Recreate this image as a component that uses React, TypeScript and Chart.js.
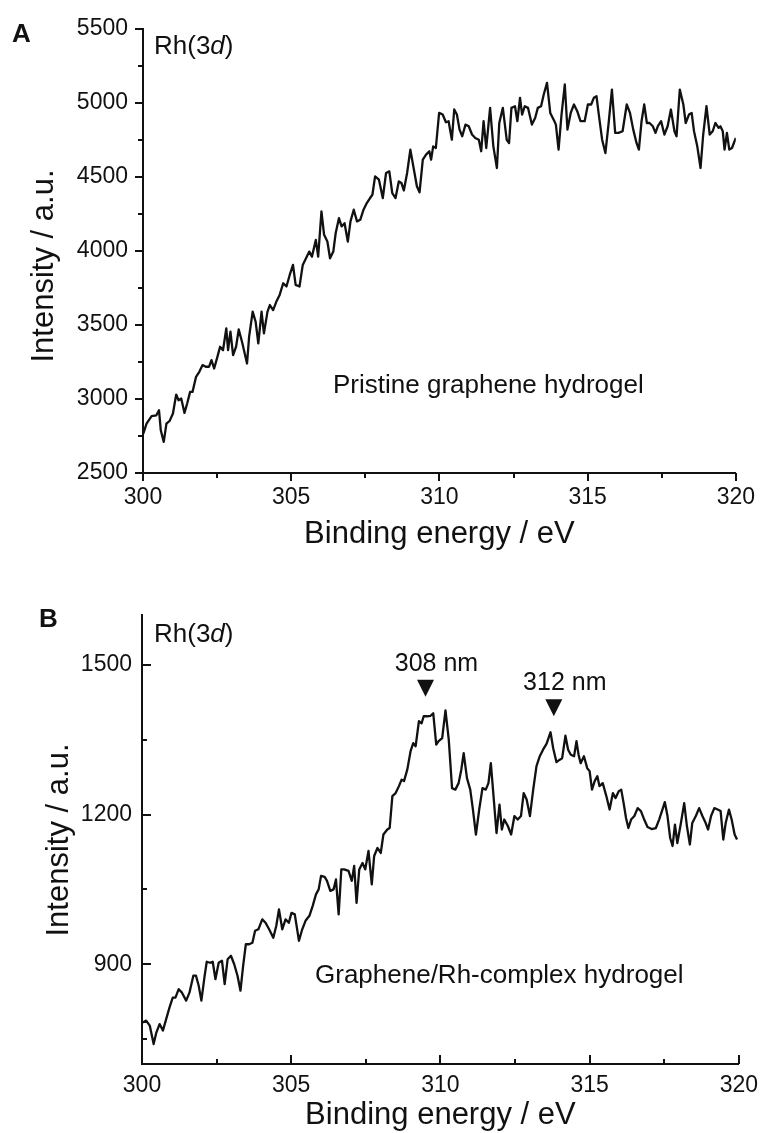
import React, { useEffect, useRef } from "react";
import { Chart, registerables } from "chart.js";

Chart.register(...registerables);

// ---------------- Data ----------------
const energyA = [
  300.01, 300.12, 300.29, 300.45, 300.54, 300.6, 300.7, 300.79, 300.9, 301.01,
  301.12, 301.2, 301.29, 301.4, 301.49, 301.59, 301.67, 301.79, 301.9,
  302.01, 302.12, 302.23, 302.31, 302.4, 302.51, 302.6, 302.7, 302.81, 302.87, 302.95,
  303.04, 303.14, 303.23, 303.34, 303.51, 303.58, 303.7, 303.8, 303.89,
  304.0, 304.08, 304.2, 304.28, 304.39, 304.5, 304.61, 304.73, 304.84, 304.95,
  305.06, 305.15, 305.28, 305.39, 305.5, 305.61, 305.7, 305.83, 305.91,
  306.02, 306.11, 306.22, 306.31, 306.42, 306.5, 306.61, 306.7, 306.8, 306.91,
  307.0, 307.11, 307.22, 307.33, 307.44, 307.55, 307.66, 307.74, 307.83, 307.96,
  308.09, 308.2, 308.31,
  308.41, 308.52, 308.63, 308.72, 308.8, 308.91, 309.02, 309.13, 309.24, 309.33,
  309.44, 309.55, 309.66, 309.72, 309.79, 309.88, 309.99, 310.11, 310.22, 310.31,
  310.42, 310.5, 310.59, 310.68, 310.77, 310.88, 310.99, 311.1, 311.21, 311.33,
  311.41, 311.49, 311.58, 311.71, 311.82, 311.94, 312.02, 312.14, 312.27, 312.35,
  312.43, 312.55, 312.63, 312.72, 312.79, 312.88, 312.99, 313.12, 313.23, 313.32,
  313.43, 313.52, 313.63, 313.74, 313.88, 313.93, 314.02, 314.12, 314.23, 314.32,
  314.43, 314.54, 314.65, 314.76, 314.9, 315.01, 315.12, 315.21, 315.3, 315.37,
  315.49, 315.6, 315.71, 315.82, 315.93, 316.04, 316.18, 316.32, 316.43, 316.54,
  316.65, 316.73, 316.82, 316.91, 317.0, 317.09, 317.2, 317.29, 317.37, 317.48,
  317.59, 317.7, 317.81, 317.93, 318.0, 318.11, 318.23, 318.31, 318.42, 318.51,
  318.59, 318.7, 318.81, 318.9, 319.01, 319.12, 319.22, 319.31, 319.42, 319.48,
  319.56, 319.62, 319.7, 319.78, 319.87, 320.0,
];
const intensityA = [
  2766, 2834, 2884, 2890, 2924, 2789, 2710, 2834, 2852, 2902,
  3030, 2992, 3003, 2906, 2970, 3048, 3048, 3150, 3184,
  3229, 3218, 3218, 3263, 3206, 3285, 3353, 3330, 3477, 3330, 3455,
  3297, 3353, 3470, 3387, 3240, 3421, 3590, 3522, 3376,
  3590, 3443, 3590, 3635, 3601, 3658, 3703, 3782, 3760, 3838,
  3906, 3771, 3760, 3906, 3951, 3996, 3962, 4075, 3962,
  4267, 4109, 4064, 3951, 3996, 4120, 4222, 4166, 4188, 4064,
  4200, 4279, 4200, 4211, 4279, 4324, 4358, 4380, 4504, 4482,
  4358, 4527, 4538,
  4391, 4358, 4470, 4459, 4409, 4527, 4685, 4561, 4437, 4396,
  4617, 4651, 4674, 4617, 4707, 4696, 4933, 4922, 4870, 4877,
  4752, 4956, 4922, 4820, 4775, 4854, 4843, 4787, 4764, 4752,
  4674, 4877, 4696, 4967, 4707, 4561, 4865, 4967, 4752, 4730,
  4967, 4978, 4877, 5035, 4922, 4978, 4967, 4854, 4899, 4967,
  4978, 5057, 5136, 4933, 4877, 4854, 4685, 4922, 5125, 4820,
  4933, 4990, 4945, 4877, 4877, 4990, 4990, 5035, 5046, 4933,
  4752, 4662, 4865, 5091, 4798, 4798, 4809, 4990, 4933, 4820,
  4730, 4685, 4877, 4990, 4865, 4865, 4843, 4798, 4843, 4877,
  4787, 4843, 4956, 4809, 4775, 5091, 4990, 4865, 4922, 4933,
  4809, 4707, 4561, 4787, 4978, 4787, 4809, 4865, 4832, 4843,
  4809, 4685, 4798, 4685, 4696, 4764,
];

const energyB = [
  300.03, 300.14, 300.26, 300.39, 300.48, 300.59, 300.7, 300.81, 300.92, 301.03,
  301.12, 301.23, 301.34, 301.48, 301.59, 301.72, 301.81, 301.9, 301.99, 302.1,
  302.17, 302.28, 302.37, 302.46, 302.57, 302.68, 302.77, 302.87, 302.98, 303.09,
  303.2, 303.3, 303.39, 303.48, 303.59, 303.7, 303.79, 303.9, 304.03, 304.14,
  304.26, 304.4, 304.5, 304.59, 304.7, 304.81, 304.92, 305.01, 305.12, 305.26,
  305.37, 305.48, 305.61, 305.72, 305.83, 305.92, 306.0, 306.12, 306.2, 306.31,
  306.42, 306.5, 306.59, 306.68, 306.77,
  306.92, 307.03, 307.11, 307.19, 307.28, 307.39, 307.48, 307.59, 307.7, 307.78,
  307.89, 308.0, 308.09, 308.22, 308.3, 308.39, 308.5, 308.61, 308.7, 308.78,
  308.89, 309.0, 309.09, 309.17, 309.28, 309.37, 309.44, 309.56, 309.67, 309.76,
  309.86, 309.94, 310.06, 310.17, 310.28, 310.39, 310.5, 310.61, 310.7, 310.78,
  310.89, 311.0, 311.09, 311.19, 311.3, 311.41, 311.52, 311.61, 311.69, 311.78,
  311.88, 311.98, 312.06, 312.14, 312.26, 312.37, 312.48, 312.59, 312.7, 312.79,
  312.89, 313.0, 313.11, 313.22, 313.33, 313.44, 313.56, 313.69, 313.78, 313.89,
  314.0, 314.08, 314.19, 314.28, 314.37, 314.48, 314.56, 314.63, 314.7, 314.81,
  314.92, 315.0, 315.08, 315.17, 315.26, 315.33, 315.44, 315.56, 315.67, 315.78,
  315.87, 315.98, 316.06, 316.14, 316.22, 316.3, 316.39, 316.5, 316.61, 316.72,
  316.83, 316.94, 317.08, 317.22, 317.33, 317.44, 317.52, 317.61, 317.7, 317.78,
  317.86, 317.94, 318.06, 318.17, 318.26, 318.36, 318.44, 318.56, 318.67, 318.78,
  318.89, 318.97, 319.07, 319.18, 319.29, 319.39, 319.48, 319.56, 319.67, 319.76,
  319.86, 319.94,
];
const intensityB = [
  783, 787, 777, 740, 763, 780, 767, 790, 813, 833,
  833, 850, 843, 827, 843, 877, 877, 857, 827, 877,
  905, 903, 905, 870, 903, 907, 860, 910, 917, 900,
  877, 847, 897, 940, 940, 943, 967, 970, 990, 983,
  970, 953, 977, 1010, 970, 990, 983, 1003, 1000, 947,
  970, 987, 997, 1017, 1040, 1050, 1077, 1075, 1067, 1047,
  1050, 1070, 1000, 1090, 1090,
  1087, 1067, 1097, 1023, 1090, 1103, 1090, 1127, 1060, 1117,
  1133, 1123, 1160, 1170, 1173, 1237, 1243, 1257, 1270, 1267,
  1290, 1327, 1343, 1337, 1387, 1383, 1397, 1397, 1398, 1403,
  1340, 1347, 1353, 1409, 1350, 1253, 1250, 1263, 1290, 1323,
  1273, 1250, 1210, 1160, 1210, 1253, 1250, 1263, 1303, 1237,
  1163, 1220, 1170, 1190, 1177, 1160, 1197, 1190, 1197, 1243,
  1230, 1197, 1250, 1297, 1317, 1330, 1342, 1365, 1333, 1305,
  1310, 1313, 1358, 1330, 1320, 1317, 1347, 1320, 1303, 1317,
  1293, 1287, 1250, 1267, 1277, 1257, 1263, 1237, 1210, 1243,
  1233, 1247, 1250, 1223, 1193, 1173, 1190, 1197, 1213, 1207,
  1190, 1175, 1171, 1173, 1190, 1210, 1225, 1197, 1153, 1137,
  1180, 1143, 1183, 1223, 1177, 1140, 1183, 1197, 1213, 1197,
  1183, 1170, 1197, 1213, 1210, 1207, 1150, 1183, 1210, 1190,
  1160, 1150,
];

const xTickValues = [300, 305, 310, 315, 320];
const xMinorTickValues = [302.5, 307.5, 312.5, 317.5];
const yTickValuesA = [2500, 3000, 3500, 4000, 4500, 5000, 5500];
const yMinorTickValuesA = [2750, 3250, 3750, 4250, 4750, 5250];
const yTickValuesB = [900, 1200, 1500];
const yMinorTickValuesB = [750, 1050, 1350];

const peakLabelsB = ["308 nm", "312 nm"];
const peakEnergiesB = [309.5, 313.8];
const peakMarkerLevelsB = [1436, 1397];

// ---------------- Styling ----------------
const FONT = '"Liberation Sans", Arial, Helvetica, sans-serif';
const INK = "#111111";

type PanelSpec = {
  W: number;
  H: number;
  area: { left: number; top: number; right: number; bottom: number };
  energy: number[];
  intensity: number[];
  yMin: number;
  yMax: number;
  yTicks: number[];
  yMinor: number[];
  tickDir: "out" | "in";
  majorLen: number;
  minorLen: number;
  yLabelPad: number;
  xLabelPad: number;
  letter: string;
  letterX: number;
  letterY: number;
  rhX: number;
  rhY: number;
  sample: string;
  sampleX: number;
  sampleY: number;
  yTitleX: number;
  yTitleY: number;
  xTitleY: number;
  peaks?: { labels: string[]; energies: number[]; levels: number[] };
};

const specA: PanelSpec = {
  W: 766,
  H: 560,
  area: { left: 143, top: 29, right: 744, bottom: 473 },
  energy: energyA,
  intensity: intensityA,
  yMin: 2500,
  yMax: 5500,
  yTicks: yTickValuesA,
  yMinor: yMinorTickValuesA,
  tickDir: "out",
  majorLen: 8,
  minorLen: 5,
  yLabelPad: 15,
  xLabelPad: 11,
  letter: "A",
  letterX: 12,
  letterY: 42,
  rhX: 154,
  rhY: 54,
  sample: "Pristine graphene hydrogel",
  sampleX: 333,
  sampleY: 393,
  yTitleX: 53,
  yTitleY: 266,
  xTitleY: 543,
};

const specB: PanelSpec = {
  W: 766,
  H: 573,
  area: { left: 142, top: 55, right: 741, bottom: 504 },
  energy: energyB,
  intensity: intensityB,
  yMin: 700,
  yMax: 1600,
  yTicks: yTickValuesB,
  yMinor: yMinorTickValuesB,
  tickDir: "in",
  majorLen: 9,
  minorLen: 5,
  yLabelPad: 10,
  xLabelPad: 8,
  letter: "B",
  letterX: 39,
  letterY: 67,
  rhX: 154,
  rhY: 82,
  sample: "Graphene/Rh-complex hydrogel",
  sampleX: 315,
  sampleY: 423,
  yTitleX: 68,
  yTitleY: 280,
  xTitleY: 564,
  peaks: { labels: peakLabelsB, energies: peakEnergiesB, levels: peakMarkerLevelsB },
};

function makeDecor(spec: PanelSpec) {
  return {
    id: "decor",
    afterDraw(chart: any) {
      const ctx: CanvasRenderingContext2D = chart.ctx;
      const xs = chart.scales.x;
      const ys = chart.scales.y;
      const a = chart.chartArea;
      const dir = spec.tickDir === "out" ? 1 : -1;
      ctx.save();
      ctx.strokeStyle = INK;
      ctx.fillStyle = INK;
      ctx.lineWidth = 2;
      ctx.lineCap = "butt";

      const tickX = (v: number, len: number) => {
        const px = Math.round(xs.getPixelForValue(v));
        ctx.beginPath();
        ctx.moveTo(px, a.bottom);
        ctx.lineTo(px, a.bottom + dir * len);
        ctx.stroke();
      };
      const tickY = (v: number, len: number) => {
        const py = Math.round(ys.getPixelForValue(v));
        ctx.beginPath();
        ctx.moveTo(a.left, py);
        ctx.lineTo(a.left - dir * len, py);
        ctx.stroke();
      };
      xTickValues.forEach((v) => tickX(v, spec.majorLen));
      xMinorTickValues.forEach((v) => tickX(v, spec.minorLen));
      spec.yTicks.forEach((v) => tickY(v, spec.majorLen));
      spec.yMinor.forEach((v) => tickY(v, spec.minorLen));

      // Panel letter
      ctx.textAlign = "left";
      ctx.textBaseline = "alphabetic";
      ctx.font = `bold 26px ${FONT}`;
      ctx.fillText(spec.letter, spec.letterX, spec.letterY);

      // Rh(3d)
      ctx.font = `26px ${FONT}`;
      let cx = spec.rhX;
      ctx.fillText("Rh(3", cx, spec.rhY);
      cx += ctx.measureText("Rh(3").width;
      ctx.font = `italic 26px ${FONT}`;
      ctx.fillText("d", cx, spec.rhY);
      cx += ctx.measureText("d").width;
      ctx.font = `26px ${FONT}`;
      ctx.fillText(")", cx, spec.rhY);

      // Sample label
      ctx.font = `26px ${FONT}`;
      ctx.fillText(spec.sample, spec.sampleX, spec.sampleY);

      // Axis titles
      ctx.font = `31px ${FONT}`;
      ctx.textAlign = "center";
      ctx.fillText("Binding energy / eV", (a.left + a.right) / 2, spec.xTitleY);
      ctx.save();
      ctx.translate(spec.yTitleX, spec.yTitleY);
      ctx.rotate(-Math.PI / 2);
      ctx.fillText("Intensity / a.u.", 0, 0);
      ctx.restore();

      // Peak markers
      if (spec.peaks) {
        const p = spec.peaks;
        p.labels.forEach((label, i) => {
          const px = xs.getPixelForValue(p.energies[i]);
          const tip = ys.getPixelForValue(p.levels[i]);
          const h = 17;
          const hw = 8.5;
          ctx.beginPath();
          ctx.moveTo(px - hw, tip - h);
          ctx.lineTo(px + hw, tip - h);
          ctx.lineTo(px, tip);
          ctx.closePath();
          ctx.fill();
          ctx.font = `25px ${FONT}`;
          ctx.textAlign = "center";
          ctx.fillText(label, px + 11, tip - h - 9);
        });
      }
      ctx.restore();
    },
  };
}

function Panel({ spec, top }: { spec: PanelSpec; top: number }) {
  const ref = useRef<HTMLCanvasElement | null>(null);
  useEffect(() => {
    const canvas = ref.current;
    if (!canvas) return;
    const { W, H, area } = spec;
    const chart = new Chart(canvas, {
      type: "line",
      data: {
        datasets: [
          {
            data: spec.energy.map((x, i) => ({ x, y: spec.intensity[i] })),
            borderColor: INK,
            borderWidth: 2.3,
            borderJoinStyle: "round",
            pointRadius: 0,
            tension: 0,
            fill: false,
          },
        ],
      },
      options: {
        responsive: false,
        animation: false,
        devicePixelRatio: 1,
        events: [],
        layout: { padding: { left: 0, top: area.top, right: W - area.right, bottom: 0 } },
        plugins: { legend: { display: false }, tooltip: { enabled: false }, title: { display: false } },
        scales: {
          x: {
            type: "linear",
            min: 300,
            max: 320,
            afterBuildTicks: (s: any) => {
              s.ticks = xTickValues.map((v) => ({ value: v }));
            },
            afterFit: (s: any) => {
              s.height = H - area.bottom;
            },
            grid: { display: false, drawTicks: false },
            border: { display: true, color: INK, width: 2 },
            ticks: {
              color: INK,
              font: { family: FONT, size: 23 },
              padding: spec.xLabelPad,
              maxRotation: 0,
              autoSkip: false,
              callback: (v: any) => String(v),
            },
          },
          y: {
            type: "linear",
            min: spec.yMin,
            max: spec.yMax,
            afterBuildTicks: (s: any) => {
              s.ticks = spec.yTicks.map((v) => ({ value: v }));
            },
            afterFit: (s: any) => {
              s.width = area.left;
            },
            grid: { display: false, drawTicks: false },
            border: { display: true, color: INK, width: 2 },
            ticks: {
              color: INK,
              font: { family: FONT, size: 23 },
              padding: spec.yLabelPad,
              autoSkip: false,
              callback: (v: any) => String(v),
            },
          },
        },
      } as any,
      plugins: [makeDecor(spec)],
    });
    return () => chart.destroy();
  }, [spec]);
  return (
    <canvas
      ref={ref}
      width={spec.W}
      height={spec.H}
      style={{ position: "absolute", left: 0, top, width: spec.W, height: spec.H, display: "block" }}
    />
  );
}

export default function App() {
  return (
    <div
      style={{
        position: "absolute",
        left: 0,
        top: 0,
        width: 766,
        height: 1133,
        background: "#ffffff",
        overflow: "hidden",
      }}
    >
      <Panel spec={specA} top={0} />
      <Panel spec={specB} top={560} />
    </div>
  );
}
